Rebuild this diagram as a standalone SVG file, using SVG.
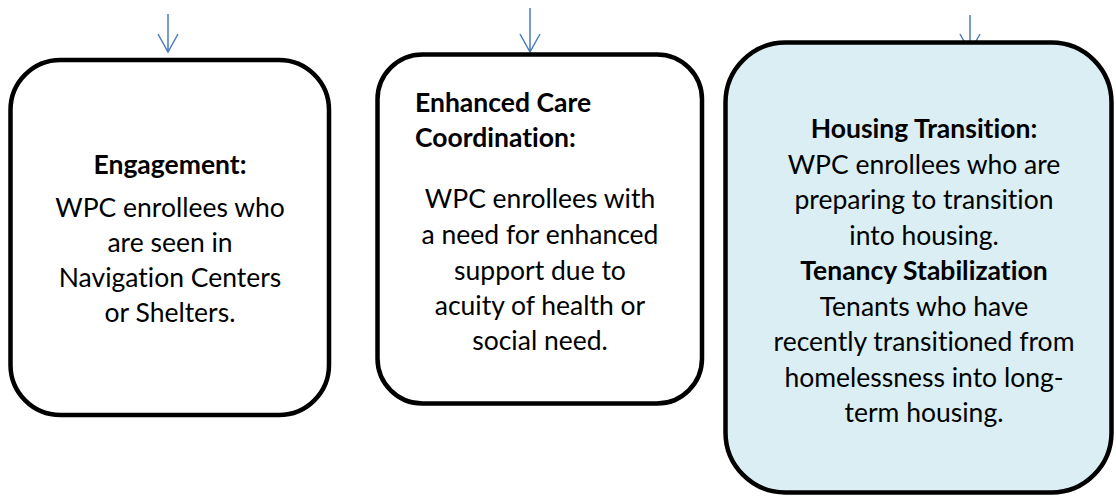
<svg xmlns="http://www.w3.org/2000/svg" width="1116" height="497" viewBox="0 0 1116 497">
  <defs>
    <style>
      .box { fill: #ffffff; stroke: #000000; stroke-width: 4.5; }
      .box.blue { fill: #DAEEF3; }
      .t { font-family: Lato, "Open Sans", "Liberation Sans", sans-serif; font-size: 26.5px; fill: #000000; font-variant-ligatures: none; }
      .c { text-anchor: middle; }
      .b { font-weight: bold; }
      .arrow { stroke: #4A7EBB; stroke-width: 1.5; fill: none; }
    </style>
  </defs>
  <rect width="1116" height="497" fill="#ffffff"/>
  <g id="connectors">
    <path class="arrow" d="M168 14 V52 M158 34 L168 52 L178 34"/>
    <path class="arrow" d="M530 8 V52 M520 34 L530 52 L540 34"/>
    <path class="arrow" d="M970 15 V52 M960 34 L970 52 L980 34"/>
  </g>
  <g id="node-engagement">
    <rect class="box" x="10.5" y="60" width="318.5" height="355" rx="50" ry="50"/>
    <text class="t c b" x="170" y="174">Engagement:</text>
    <text class="t c" x="170" y="217">WPC enrollees who</text>
    <text class="t c" x="170" y="252">are seen in</text>
    <text class="t c" x="170" y="287">Navigation Centers</text>
    <text class="t c" x="170" y="322">or Shelters.</text>
  </g>
  <g id="node-care-coordination">
    <rect class="box" x="377.5" y="54.5" width="324.5" height="349" rx="45" ry="45"/>
    <text class="t b" x="415" y="112">Enhanced Care</text>
    <text class="t b" x="415" y="147">Coordination:</text>
    <text class="t c" x="540" y="208">WPC enrollees with</text>
    <text class="t c" x="540" y="244">a need for enhanced</text>
    <text class="t c" x="540" y="280">support due to</text>
    <text class="t c" x="540" y="315">acuity of health or</text>
    <text class="t c" x="540" y="350">social need.</text>
  </g>
  <g id="node-housing">
    <rect class="box blue" x="725.5" y="42.5" width="386" height="450" rx="60" ry="60"/>
    <text class="t c b" x="924" y="138">Housing Transition:</text>
    <text class="t c" x="924" y="173.5">WPC enrollees who are</text>
    <text class="t c" x="924" y="209">preparing to transition</text>
    <text class="t c" x="924" y="244.5">into housing.</text>
    <text class="t c b" x="924" y="280">Tenancy Stabilization</text>
    <text class="t c" x="924" y="315.5">Tenants who have</text>
    <text class="t c" x="924" y="351">recently transitioned from</text>
    <text class="t c" x="924" y="386.5">homelessness into long-</text>
    <text class="t c" x="924" y="422">term housing.</text>
  </g>
</svg>
